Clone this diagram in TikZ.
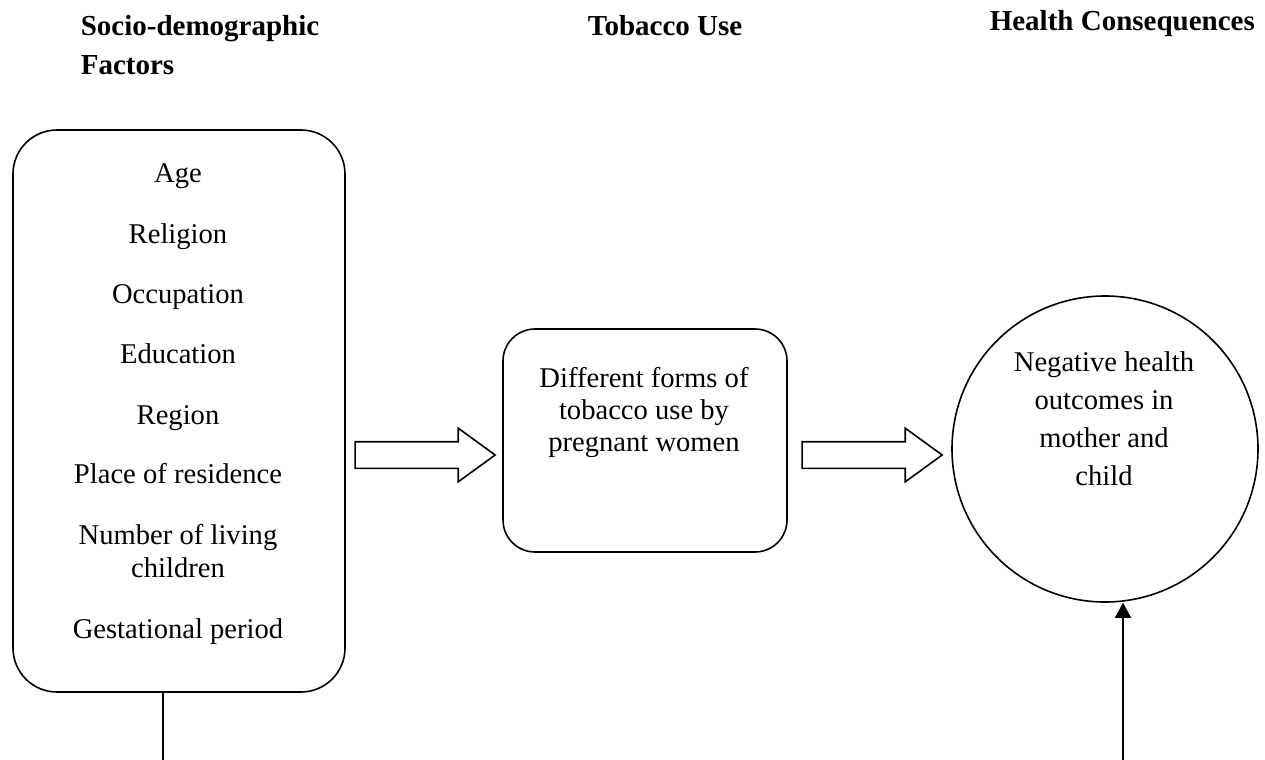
\documentclass[tikz,border=0pt]{standalone}
\usepackage{fontspec}
\setmainfont{Liberation Serif}
\usetikzlibrary{shapes,arrows.meta}
\usetikzlibrary{positioning}
\tikzstyle{roundbox} = [draw, rectangle, line width=0.8pt]
\tikzstyle{fatarrow} = [draw, single arrow, line width=0.8pt,
    minimum height=70pt, inner xsep=0pt, inner ysep=6.25pt,
    text height=0pt, text depth=0pt,
    single arrow head extend=6.75pt, single arrow tip angle=72]
\tikzstyle{item} = [inner sep=0pt, anchor=base,
    font=\fontsize{14.3pt}{16.5pt}\selectfont]
\tikzstyle{head} = [inner sep=0pt, anchor=base west,
    font=\fontsize{14.5pt}{17pt}\selectfont\bfseries]
\begin{document}
\begin{tikzpicture}[x=0.5pt, y=-0.5pt, line width=0.8pt,
    >={Triangle[width=8pt,length=7.5pt]}]
    \useasboundingbox (0,0) rectangle (1265,760);
    % column headings
    \node [head] (hsd) at (80,35) {Socio-demographic};
    \node [head] (hsd2) at (80,74) {Factors};
    \node [head] (htu) at (587,35) {Tobacco Use};
    \node [head] (hhc) at (989,31) {Health Consequences};
    % factors box
    \node [roundbox, rounded corners=22pt, minimum width=166pt, minimum height=281pt] (sdbox) at (179,411) {};
    \foreach \txt/\yy [count=\i] in {Age/182, Religion/243, Occupation/303, Education/363, Region/424,
        Place of residence/483, Number of living/544, children/577, Gestational period/638}
        \node [item] (sd\i) at (178,\yy) {\txt};
    % tobacco use box
    \node [roundbox, rounded corners=16pt, minimum width=142pt, minimum height=111.5pt] (tubox) at (645,440.5) {};
    \node [item] (tu1) at (644,387) {Different forms of};
    \node [item] (tu2) at (644,419) {tobacco use by};
    \node [item] (tu3) at (644,451) {pregnant women};
    % health circle
    \node [draw, circle, minimum size=153pt, inner sep=0pt] (hc) at (1105,449) {};
    \node [item] (hc1) at (1104,371) {Negative health};
    \node [item] (hc2) at (1104,409) {outcomes in};
    \node [item] (hc3) at (1104,447) {mother and};
    \node [item] (hc4) at (1104,485) {child};
    % block arrows
    \node [fatarrow] (arr1) at (416,455) {};
    \node [fatarrow] (arr2) at (863,455) {};
    % lines off the bottom
    \coordinate (sdfoot) at (163,760);
    \coordinate (hcfoot) at (1123,760);
    \draw (sdbox.south -| sdfoot) -- (sdfoot);
    \draw [->] (hcfoot) -- (hcfoot |- hc.south);
\end{tikzpicture}
\end{document}
